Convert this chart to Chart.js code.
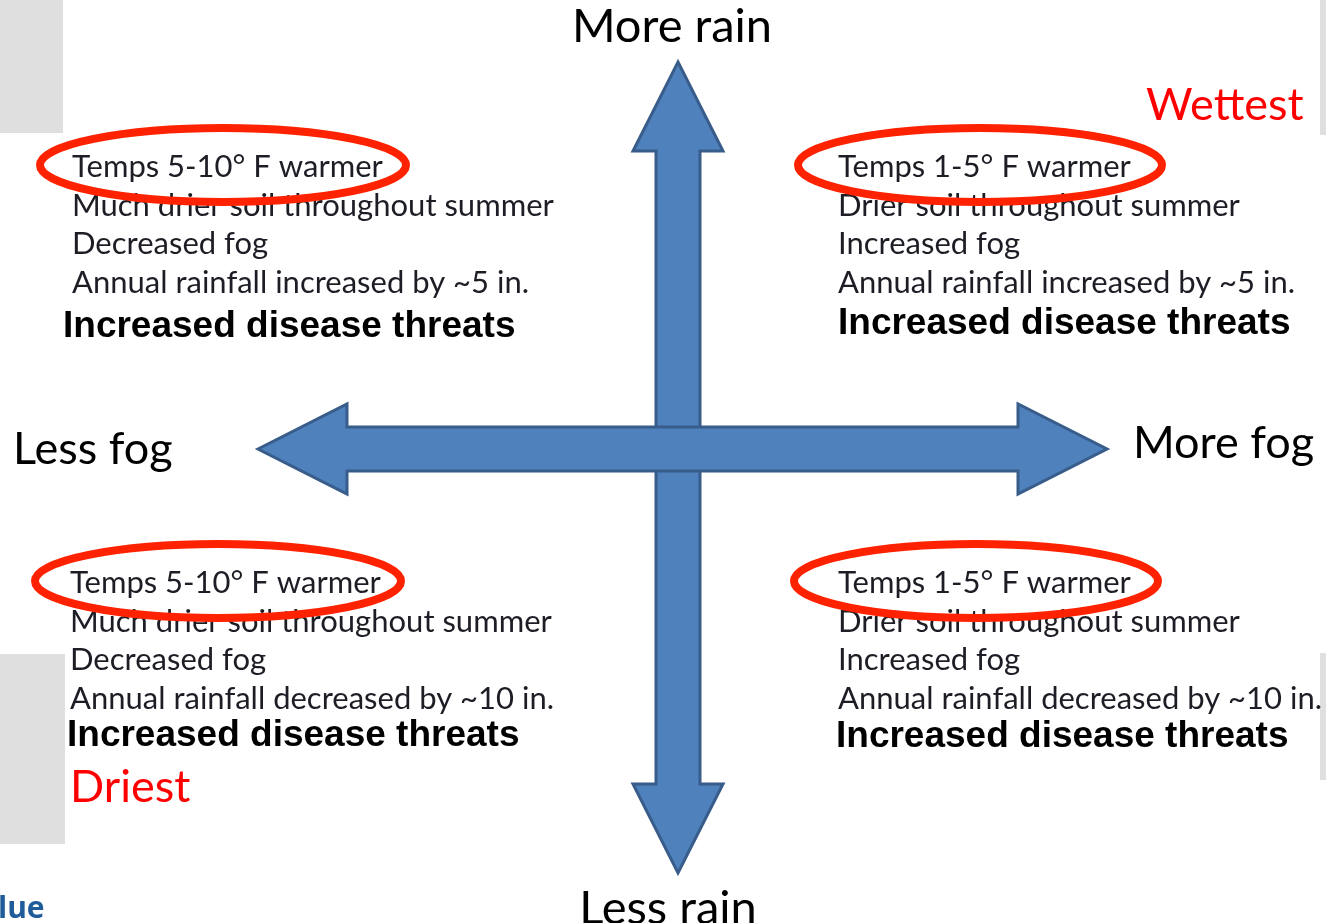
<!DOCTYPE html>
<html lang="en">
<head>
    <meta charset="UTF-8">
    <title>Climate scenarios: rain vs fog</title>
    <script src="https://cdn.jsdelivr.net/npm/chart.js"></script>
    <style>
        body {
            margin: 0;
            padding: 0;
            background: #ffffff;
            overflow: hidden;
        }
        #grafico {
            display: block;
        }
    </style>
</head>
<body>
    <canvas id="grafico" width="1326" height="923"></canvas>

    <script>
        // axis labels
        const rainLabels = ["More rain", "Less rain"];
        const fogLabels = ["Less fog", "More fog"];

        // arrow ends (same units as the hidden scales)
        const fogArrowEnds = [258, 1107];
        const fogArrowLevel = 449;
        const rainArrowEnds = [62, 873];
        const rainArrowLevel = 678;

        // quadrant texts: top-left, top-right, bottom-left, bottom-right
        const quadrantTemps = ["Temps 5-10\u00B0 F warmer", "Temps 1-5\u00B0 F warmer", "Temps 5-10\u00B0 F warmer", "Temps 1-5\u00B0 F warmer"];
        const quadrantSoil = ["Much drier soil throughout summer", "Drier soil throughout summer", "Much drier soil throughout summer", "Drier soil throughout summer"];
        const quadrantFog = ["Decreased fog", "Increased fog", "Decreased fog", "Increased fog"];
        const quadrantRainfall = ["Annual rainfall increased by ~5 in.", "Annual rainfall increased by ~5 in.", "Annual rainfall decreased by ~10 in.", "Annual rainfall decreased by ~10 in."];
        const quadrantThreats = ["Increased disease threats", "Increased disease threats", "Increased disease threats", "Increased disease threats"];

        const extremeLabels = ["Wettest", "Driest"];
        const cutLabel = "lue";

        // layout (pixel positions of the slide)
        const quadrantLayout = [
            { x: 72, bx: 63, y: 177, by: 337, ex: 223, ey: 165, erx: 183 },
            { x: 838, bx: 838, y: 177, by: 334, ex: 980, ey: 165, erx: 182 },
            { x: 70, bx: 67, y: 593, by: 746, ex: 218, ey: 581, erx: 183 },
            { x: 838, bx: 836, y: 593, by: 747, ex: 976, ey: 581, erx: 182 }
        ];
        const lineGap = 38.7;
        const bodyFont = "31px Lato";
        const boldFont = "bold 37px 'Liberation Sans'";
        const bigFont = "45px Lato";
        const textColor = "#1d1d26";
        const arrowFill = "#4f81bd";
        const arrowLine = "#385d8a";
        const ovalColor = "#ff2200";

        function blockArrow(ctx, x1, y1, x2, y2) {
            // double headed block arrow from (x1,y1) to (x2,y2)
            const len = Math.hypot(x2 - x1, y2 - y1);
            const ang = Math.atan2(y2 - y1, x2 - x1);
            const sw = 22, hw = 45, hl = 89;
            ctx.save();
            ctx.translate(x1, y1);
            ctx.rotate(ang);
            ctx.beginPath();
            ctx.moveTo(0, 0);
            ctx.lineTo(hl, -hw);
            ctx.lineTo(hl, -sw);
            ctx.lineTo(len - hl, -sw);
            ctx.lineTo(len - hl, -hw);
            ctx.lineTo(len, 0);
            ctx.lineTo(len - hl, hw);
            ctx.lineTo(len - hl, sw);
            ctx.lineTo(hl, sw);
            ctx.lineTo(hl, hw);
            ctx.closePath();
            ctx.fillStyle = arrowFill;
            ctx.fill();
            ctx.lineWidth = 3;
            ctx.lineJoin = "miter";
            ctx.strokeStyle = arrowLine;
            ctx.stroke();
            ctx.restore();
        }

        const diagrama = {
            id: "diagrama",
            afterDatasetsDraw(chart) {
                const ctx = chart.ctx;
                const sx = chart.scales.x, sy = chart.scales.y;
                const px = v => sx.getPixelForValue(v);
                const py = v => sy.getPixelForValue(v);

                // grey slide bits at the edges
                ctx.fillStyle = "#dfdfdf";
                ctx.fillRect(px(0), py(0), px(63) - px(0), py(133) - py(0));
                ctx.fillRect(px(0), py(654), px(65) - px(0), py(844) - py(654));
                ctx.fillRect(px(1320), py(0), px(1326) - px(1320), py(135) - py(0));
                ctx.fillRect(px(1320), py(653), px(1326) - px(1320), py(780) - py(653));

                // arrows, drawn from the two datasets
                const rain = chart.data.datasets[1].data;
                const fog = chart.data.datasets[0].data;
                blockArrow(ctx, px(rain[0].x), py(rain[0].y), px(rain[1].x), py(rain[1].y));
                blockArrow(ctx, px(fog[0].x), py(fog[0].y), px(fog[1].x), py(fog[1].y));

                // axis labels
                ctx.fillStyle = "#000000";
                ctx.textBaseline = "alphabetic";
                ctx.textAlign = "center";
                ctx.font = "47px Lato";
                ctx.fillText(rainLabels[0], px(672), py(42));
                ctx.fillText(rainLabels[1], px(668), py(924));
                ctx.font = bigFont;
                ctx.textAlign = "left";
                ctx.fillText(fogLabels[0], px(13), py(464));
                ctx.fillText(fogLabels[1], px(1133), py(458));

                // quadrant texts
                quadrantLayout.forEach((q, i) => {
                    ctx.fillStyle = textColor;
                    ctx.font = bodyFont;
                    ctx.textAlign = "left";
                    const lines = [quadrantTemps[i], quadrantSoil[i], quadrantFog[i], quadrantRainfall[i]];
                    lines.forEach((t, k) => ctx.fillText(t, px(q.x), py(q.y + k * lineGap)));
                    ctx.fillStyle = "#000000";
                    ctx.font = boldFont;
                    ctx.fillText(quadrantThreats[i], px(q.bx), py(q.by));
                });

                // red ovals over the temperature lines
                ctx.strokeStyle = ovalColor;
                ctx.lineWidth = 8;
                quadrantLayout.forEach(q => {
                    ctx.beginPath();
                    ctx.ellipse(px(q.ex), py(q.ey), px(q.ex + q.erx) - px(q.ex), py(q.ey + 37) - py(q.ey), 0, 0, Math.PI * 2);
                    ctx.stroke();
                });

                // wettest / driest
                ctx.fillStyle = "#ff0000";
                ctx.font = bigFont;
                ctx.textAlign = "left";
                ctx.fillText(extremeLabels[0], px(1146), py(120));
                ctx.fillText(extremeLabels[1], px(70), py(802));

                // cut off word at the bottom left
                ctx.fillStyle = "#1f5c99";
                ctx.font = "bold 30px 'Open Sans'";
                ctx.fillText(cutLabel, px(-2), py(918));
            }
        };

        const ctx = document.getElementById("grafico").getContext("2d");
        new Chart(ctx, {
            type: "scatter",
            data: {
                datasets: [
                    {
                        label: fogLabels.join(" / "),
                        data: fogArrowEnds.map(x => ({ x: x, y: fogArrowLevel })),
                        pointRadius: 0,
                        showLine: false
                    },
                    {
                        label: rainLabels.join(" / "),
                        data: rainArrowEnds.map(y => ({ x: rainArrowLevel, y: y })),
                        pointRadius: 0,
                        showLine: false
                    }
                ]
            },
            options: {
                responsive: false,
                animation: false,
                layout: { padding: 0 },
                plugins: {
                    legend: { display: false },
                    tooltip: { enabled: false }
                },
                scales: {
                    x: { type: "linear", min: 0, max: 1326, display: false },
                    y: { type: "linear", min: 0, max: 923, reverse: true, display: false }
                }
            },
            plugins: [diagrama]
        });
    </script>
</body>
</html>
